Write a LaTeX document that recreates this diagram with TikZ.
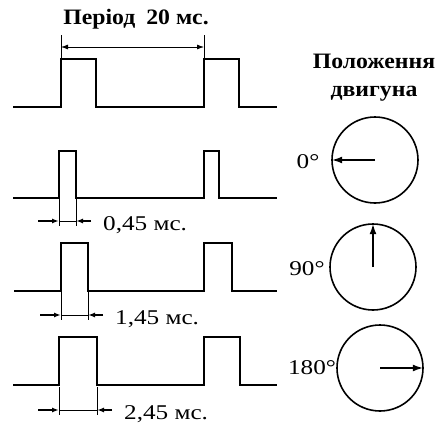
\documentclass[tikz,border=0pt]{standalone}
\usepackage{fontspec}
\setmainfont{Liberation Serif}
\newfontfamily\labelfont[FakeStretch=1.2]{Liberation Serif}
\newfontfamily\headfont[FakeStretch=1.08]{Liberation Serif}
\usetikzlibrary{arrows.meta}
\tikzset{
  wave/.style={line width=2.6pt},
  dim/.style={line width=0.8pt},
  dimtip/.style={line width=1.4pt,-{Latex[length=7pt,width=5pt]}},
  disk/.style={circle,draw,line width=1.6pt,minimum size=86pt,inner sep=0pt},
  shaft/.style={line width=2.2pt,-{Latex[length=11pt,width=7pt]}},
  lbl/.style={font=\labelfont\fontsize{21}{23}\selectfont,inner sep=0pt},
  head/.style={font=\headfont\bfseries\fontsize{22}{28}\selectfont,inner sep=0pt,align=center}
}
\begin{document}
\begin{tikzpicture}[x=1pt,y=-1pt]%servo pulses
\useasboundingbox (0,0) rectangle (437,423);
\draw[wave] (13,107) -- (61,107) -- (61,59) -- (96,59) -- (96,107) -- (204,107) -- (204,59) -- (239,59) -- (239,107) -- (277,107);
\draw[wave] (13,198) -- (59,198) -- (59,151) -- (76,151) -- (76,198) -- (204,198) -- (204,151) -- (219,151) -- (219,198) -- (277,198);
\draw[wave] (14,291) -- (61,291) -- (61,243) -- (88,243) -- (88,291) -- (204,291) -- (204,243) -- (232,243) -- (232,291) -- (277,291);
\draw[wave] (13,385) -- (59,385) -- (59,337) -- (97,337) -- (97,385) -- (204,385) -- (204,337) -- (240,337) -- (240,385) -- (277,385);
% period
\node[head] (period) at (136,19) {Період\enspace 20 мс.};
\coordinate (pa) at (61,47);
\coordinate (pb) at (204,47);
\draw[dim] (61,35) -- (61,59) (204,35) -- (204,59);
\draw[dim,{Latex[length=7pt,width=5pt]}-{Latex[length=7pt,width=5pt]}] (pa) -- (pb);
% widths
\foreach \a/\b/\y/\t in {59/76/221/{0,45}, 61/88/315/{1,45}, 59/97/410/{2,45}} {
  \coordinate (l) at (\a,\y);
  \coordinate (r) at (\b,\y);
  \draw[dim] (\a,\y-23) -- (\a,\y+5) (\b,\y-23) -- (\b,\y+5) (l) -- (r);
  \draw[dimtip] (\a-21,\y) -- (l);
  \draw[dimtip] (\b+15,\y) -- (r);
  \node[lbl,anchor=west] (w\b) at (\b+27,\y+4) {\t\ мс.};
}
% motor
\node[head] (motor) at (374,78) {Положення\\двигуна};
\node[disk] (m0) at (375,160) {};
\node[disk] (m90) at (373,267) {};
\node[disk] (m180) at (380,368) {};
\draw[shaft] (m0.center) -- (m0.west);
\draw[shaft] (m90.center) -- (m90.north);
\draw[shaft] (m180.center) -- (m180.east);
\node[lbl] (d0) at (308,162) {0°};
\node[lbl] (d90) at (307,269) {90°};
\node[lbl,anchor=east] (d180) at (m180.west) {180°};
\end{tikzpicture}
\end{document}
